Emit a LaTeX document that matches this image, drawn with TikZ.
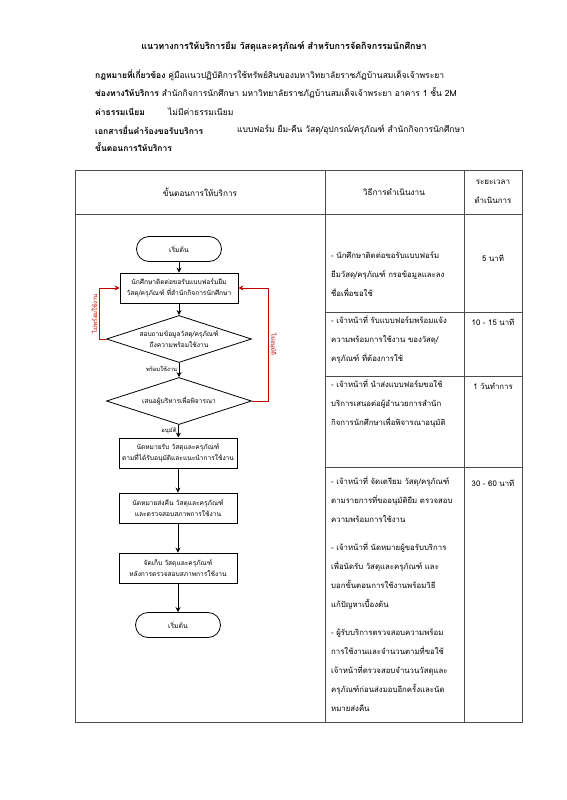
\documentclass[tikz,border=0pt]{standalone}
\usepackage{fontspec}
\setmainfont[Script=Thai]{Loma}
\usetikzlibrary{shapes.geometric,arrows.meta}
\definecolor{loopred}{RGB}{192,0,0}

\begin{document}
\begin{tikzpicture}[x=1pt,y=-1pt,
  headline/.style={anchor=west, inner sep=0pt, font=\fontsize{8.5}{10}\selectfont},
  cell/.style={anchor=north west, align=left, inner sep=0pt, font=\fontsize{7.8}{19}\selectfont},
  timecell/.style={anchor=center, inner sep=0pt, font=\fontsize{7.8}{10}\selectfont},
  flowbox/.style={rectangle, draw, thick, minimum width=118pt, minimum height=30pt, align=center, inner sep=2pt, font=\fontsize{6.6}{11}\selectfont},
  term/.style={rectangle, draw, thick, rounded corners=12.5pt, minimum width=85pt, minimum height=25pt, font=\fontsize{6.8}{8}\selectfont},
  decision/.style={diamond, draw, thick, aspect=3.1, minimum width=145pt, minimum height=47pt, inner sep=0pt, align=center, font=\fontsize{6.6}{11}\selectfont},
  arrow/.style={-{Stealth[length=5pt,width=5pt]}, thick},
  back/.style={arrow, draw=loopred},
  backlabel/.style={font=\fontsize{6}{7}\selectfont, text=loopred, inner sep=1.5pt},
  flowlabel/.style={font=\fontsize{5.8}{7}\selectfont, inner sep=1.5pt}
]
\useasboundingbox[fill=white] (0,0) rectangle (566,800);

% Page head
\node[font=\bfseries\fontsize{9}{10}\selectfont] (title) at (284,47) {แนวทางการให้บริการยืม วัสดุและครุภัณฑ์ สำหรับการจัดกิจกรรมนักศึกษา};
\node[headline] (law) at (95,75) {\textbf{กฎหมายที่เกี่ยวข้อง} คู่มือแนวปฏิบัติการใช้ทรัพย์สินของมหาวิทยาลัยราชภัฏบ้านสมเด็จเจ้าพระยา};
\node[headline] (channel) at (95,93) {\textbf{ช่องทางให้บริการ} สำนักกิจการนักศึกษา มหาวิทยาลัยราชภัฏบ้านสมเด็จเจ้าพระยา อาคาร 1 ชั้น 2M};
\node[headline, font=\bfseries\fontsize{8.5}{10}\selectfont] (fee) at (95,112) {ค่าธรรมเนียม};
\node[headline] (feetext) at (168,112) {ไม่มีค่าธรรมเนียม};
\node[headline, font=\bfseries\fontsize{8.5}{10}\selectfont] (docs) at (95,130) {เอกสารยื่นคำร้องขอรับบริการ};
\node[headline] (docstext) at (237,130) {แบบฟอร์ม ยืม-คืน วัสดุ/อุปกรณ์/ครุภัณฑ์ สำนักกิจการนักศึกษา};
\node[headline, font=\bfseries\fontsize{8.5}{10}\selectfont] (steps) at (95,147) {ขั้นตอนการให้บริการ};

% Table frame
\draw[black!70, line width=0.6pt] (75,170) rectangle (522,722);
\draw[black!70, line width=0.6pt] (75,214) -- (522,214);
\draw[black!70, line width=0.6pt] (325,170) -- (325,722);
\draw[black!70, line width=0.6pt] (464,170) -- (464,722);
\foreach \y in {312,376,467}
  \draw[black!70, line width=0.6pt] (325,\y) -- (522,\y);

% Table head
\node[timecell, font=\fontsize{8.2}{10}\selectfont] (hstep) at (200,192) {ขั้นตอนการให้บริการ};
\node[timecell, font=\fontsize{8.2}{10}\selectfont] (hmethod) at (394,192) {วิธีการดำเนินงาน};
\node[timecell, align=center, font=\fontsize{8}{19}\selectfont] (htime) at (493,192) {ระยะเวลา\\ดำเนินการ};

% Methods
\node[cell] (m1) at (331,251) {- นักศึกษาติดต่อขอรับแบบฟอร์ม\\ยืมวัสดุ/ครุภัณฑ์ กรอข้อมูลและลง\\ชื่อเพื่อขอใช้};
\node[cell] (m2) at (331,315) {- เจ้าหน้าที่ รับแบบฟอร์มพร้อมแจ้ง\\ความพร้อมการใช้งาน ของวัสดุ/\\ครุภัณฑ์ ที่ต้องการใช้};
\node[cell] (m3) at (331,379) {- เจ้าหน้าที่ นำส่งแบบฟอร์มขอใช้\\บริการเสนอต่อผู้อำนวยการสำนัก\\กิจการนักศึกษาเพื่อพิจารณาอนุมัติ};
\node[cell] (m4) at (331,476) {- เจ้าหน้าที่ จัดเตรียม วัสดุ/ครุภัณฑ์\\ตามรายการที่ขออนุมัติยืม ตรวจสอบ\\ความพร้อมการใช้งาน\\[9pt]- เจ้าหน้าที่ นัดหมายผู้ขอรับบริการ\\เพื่อนัดรับ วัสดุและครุภัณฑ์ และ\\บอกขั้นตอนการใช้งานพร้อมวิธี\\แก้ปัญหาเบื้องต้น\\[9pt]- ผู้รับบริการตรวจสอบความพร้อม\\การใช้งานและจำนวนตามที่ขอใช้\\เจ้าหน้าที่ตรวจสอบจำนวนวัสดุและ\\ครุภัณฑ์ก่อนส่งมอบอีกครั้งและนัด\\หมายส่งคืน};

% Times
\node[timecell] (t1) at (493,258) {5 นาที};
\node[timecell] (t2) at (493,322) {10 - 15 นาที};
\node[timecell] (t3) at (493,386) {1 วันทำการ};
\node[timecell] (t4) at (493,483) {30 - 60 นาที};

% Flowchart
\node[term] (start) at (179,249) {เริ่มต้น};
\node[flowbox] (form) at (179,288) {นักศึกษาติดต่อขอรับแบบฟอร์มยืม\\วัสดุ/ครุภัณฑ์ ที่สำนักกิจการนักศึกษา};
\node[decision] (check) at (179,339) {สอบถามข้อมูลวัสดุ/ครุภัณฑ์\\ถึงความพร้อมใช้งาน};
\node[decision] (propose) at (179,401) {เสนอผู้บริหารเพื่อพิจารณา};
\node[flowbox] (pickup) at (178,453) {นัดหมายรับ วัสดุและครุภัณฑ์\\ตามที่ได้รับอนุมัติและแนะนำการใช้งาน};
\node[flowbox] (giveback) at (178,508) {นัดหมายส่งคืน วัสดุและครุภัณฑ์\\และตรวจสอบสภาพการใช้งาน};
\node[flowbox] (store) at (178,568) {จัดเก็บ วัสดุและครุภัณฑ์\\หลังการตรวจสอบสภาพการใช้งาน};
\node[term] (finish) at (178,625) {เริ่มต้น};

\draw[arrow] (start) -- (form);
\draw[arrow] (form) -- (check);
\draw[arrow] (check) -- node[flowlabel, left, pos=0.45] {พร้อมใช้งาน} (propose);
\draw[arrow] (propose) -- node[flowlabel, left, pos=0.45] {อนุมัติ} (pickup);
\draw[arrow] (pickup) -- (giveback);
\draw[arrow] (giveback) -- (store);
\draw[arrow] (store) -- (finish);

% Loops back to the form
\draw[back] (check.west) -- ++(-7,0) |- node[backlabel, pos=0.25, rotate=90, above] {ไม่พร้อมใช้งาน} (form.west);
\draw[back] (propose.east) -- ++(16,0) |- node[backlabel, pos=0.25, rotate=-90, above] {ไม่อนุมัติ} (form.east);

\end{tikzpicture}
\end{document}
